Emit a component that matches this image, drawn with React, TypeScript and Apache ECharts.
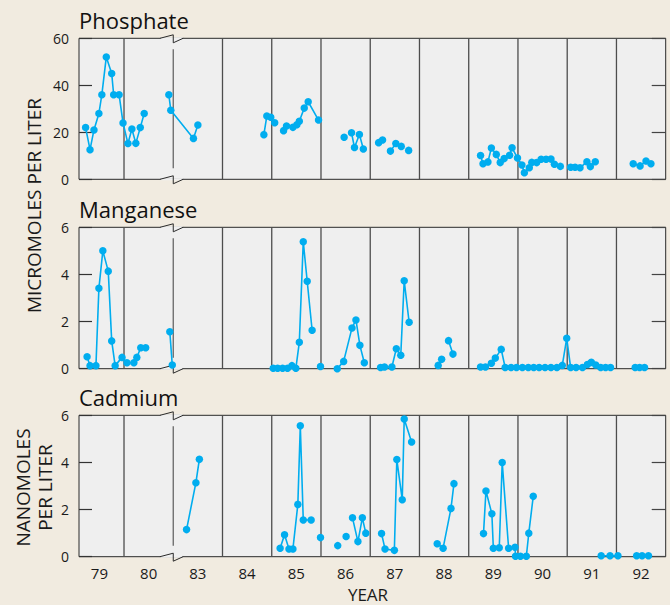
import React, { useEffect, useRef } from "react";
import * as echarts from "echarts";

// Column labels (one column per year; 81-82 are cut out by the axis break)
const yearLabels = ["79", "80", "83", "84", "85", "86", "87", "88", "89", "90", "91", "92"];

// [decimal year, value]; each inner list is one connected run of samples
const phosphate: number[][][] = [
  [[79.22, 22], [79.31, 12.6], [79.39, 21], [79.49, 28], [79.55, 36], [79.64, 52], [79.75, 45], [79.79, 36], [79.9, 36], [79.98, 24], [80.08, 15.2], [80.16, 21.4], [80.24, 15.3], [80.33, 22], [80.41, 28]],
  [[80.91, 36], [80.95, 29.4], [83.41, 17.4], [83.5, 23.1]],
  [[84.84, 19], [84.9, 26.9], [84.98, 26.4], [85.06, 24.1]],
  [[85.24, 20.7], [85.3, 22.7], [85.43, 22.1], [85.51, 23.2], [85.56, 24.7], [85.66, 30.3], [85.74, 33], [85.95, 25.2]],
  [[86.47, 17.9]],
  [[86.62, 19.8], [86.68, 13.5], [86.78, 19.1], [86.86, 12.9]],
  [[87.17, 15.6], [87.25, 16.7]],
  [[87.41, 12], [87.52, 15.2], [87.63, 14]],
  [[87.78, 12.3]],
  [[89.24, 10.1], [89.29, 6.6], [89.39, 7.4], [89.46, 13.3], [89.56, 10.6], [89.64, 7.1], [89.72, 8.8], [89.83, 10.2], [89.88, 13.4], [89.99, 9.1], [90.08, 6.1], [90.13, 2.8], [90.23, 4.9], [90.28, 7.2], [90.38, 7.1], [90.47, 8.5], [90.57, 8.5], [90.67, 8.6], [90.74, 6.4], [90.86, 5.5]],
  [[91.07, 5.1], [91.16, 5.1], [91.26, 4.9], [91.4, 7.5], [91.47, 5.4], [91.57, 7.5]],
  [[92.34, 6.6], [92.48, 5.7], [92.6, 7.8], [92.7, 6.6]],
];

const manganese: number[][][] = [
  [[79.25, 0.51], [79.31, 0.13], [79.43, 0.13], [79.49, 3.41], [79.57, 5.0], [79.68, 4.14], [79.75, 1.18], [79.82, 0.13], [79.96, 0.48], [80.06, 0.25], [80.2, 0.25], [80.26, 0.48], [80.34, 0.89], [80.44, 0.89]],
  [[80.93, 1.57], [80.98, 0.16]],
  [[85.03, 0.02], [85.12, 0.02], [85.22, 0.02], [85.32, 0.02], [85.41, 0.13], [85.49, 0.02], [85.56, 1.12], [85.64, 5.39], [85.72, 3.71], [85.82, 1.63]],
  [[85.99, 0.09]],
  [[86.33, 0.0], [86.46, 0.31], [86.63, 1.73], [86.71, 2.07], [86.79, 0.99], [86.88, 0.25]],
  [[87.21, 0.05], [87.29, 0.07], [87.44, 0.07], [87.53, 0.85], [87.62, 0.57], [87.69, 3.73], [87.79, 1.97]],
  [[88.38, 0.14], [88.45, 0.4]],
  [[88.59, 1.19], [88.68, 0.62]],
  [[89.24, 0.07], [89.34, 0.07], [89.46, 0.23], [89.54, 0.45], [89.66, 0.82], [89.74, 0.05], [89.86, 0.05], [89.97, 0.05], [90.09, 0.05], [90.21, 0.05], [90.32, 0.05], [90.43, 0.05], [90.55, 0.05], [90.67, 0.05], [90.79, 0.05], [90.9, 0.14], [90.99, 1.29], [91.07, 0.05], [91.18, 0.05], [91.31, 0.05], [91.41, 0.18], [91.49, 0.27], [91.58, 0.16], [91.68, 0.05], [91.78, 0.05], [91.88, 0.05]],
  [[92.38, 0.05], [92.47, 0.05], [92.57, 0.05]],
];

const cadmium: number[][][] = [
  [[83.27, 1.15], [83.46, 3.14], [83.53, 4.13]],
  [[85.17, 0.36], [85.26, 0.93], [85.35, 0.33], [85.43, 0.33], [85.53, 2.22], [85.58, 5.56], [85.64, 1.56], [85.8, 1.56]],
  [[85.99, 0.81]],
  [[86.34, 0.47]],
  [[86.51, 0.86]],
  [[86.64, 1.65], [86.75, 0.64], [86.84, 1.65], [86.91, 1.0]],
  [[87.23, 0.98], [87.3, 0.33], [87.49, 0.27], [87.54, 4.12], [87.65, 2.42], [87.69, 5.84], [87.84, 4.87]],
  [[88.36, 0.55], [88.48, 0.36], [88.64, 2.05], [88.7, 3.1]],
  [[89.3, 0.98], [89.35, 2.79], [89.47, 1.82], [89.5, 0.36], [89.62, 0.38], [89.68, 4.0], [89.81, 0.36], [89.94, 0.4], [89.95, 0.02], [90.05, 0.02], [90.17, 0.02], [90.22, 1.0], [90.31, 2.56]],
  [[91.69, 0.04], [91.87, 0.04], [92.03, 0.04]],
  [[92.41, 0.04], [92.52, 0.04], [92.65, 0.04]],
];

const panelTitles = ["Phosphate", "Manganese", "Cadmium"];
const panelMax = [60, 6, 6];
const panelInterval = [20, 2, 2];

// decimal year -> column position on the broken axis (1981-82 removed)
const toPos = (y: number) => (y < 82 ? y - 79 : y - 81);

const FONT = '"Open Sans", "Noto Sans", sans-serif';
const BG = "#f1ebe0";
const PLOT_BG = "#efefef";
const BLUE = "#00adef";
const X_MIN = 0.086;
const X_MAX = 12;
const BREAK_POS = 2;
const dividers = [1, 3, 4, 5, 6, 7, 8, 9, 10, 11];

const grids = [
  { top: 38.3, height: 141 },
  { top: 227.3, height: 141.4 },
  { top: 415.3, height: 141.4 },
];

function makeDeco(yMax: number) {
  return (_params: any, api: any) => {
    const top = api.coord([1, yMax])[1];
    const bottom = api.coord([1, 0])[1];
    const children: any[] = [];
    dividers.forEach((d) => {
      const x = api.coord([d, 0])[0];
      children.push({
        type: "line",
        shape: { x1: x, y1: top, x2: x, y2: bottom },
        style: { stroke: "#4d4d4d", lineWidth: 1.3 },
      });
    });
    const xb = api.coord([BREAK_POS, 0])[0];
    const xl = api.coord([BREAK_POS - 0.27, 0])[0];
    const xr = api.coord([BREAK_POS + 0.2, 0])[0];
    children.push({
      type: "line",
      shape: { x1: xb, y1: top + 11, x2: xb, y2: bottom - 11 },
      style: { stroke: "#666", lineWidth: 1.3 },
    });
    [top, bottom].forEach((yy) => {
      children.push({
        type: "rect",
        shape: { x: xl + 0.5, y: yy - 1, width: xr - xl - 1, height: 2 },
        style: { fill: PLOT_BG },
      });
      children.push({
        type: "polyline",
        shape: { points: [[xl, yy], [xb, yy - 3.5], [xb, yy + 4.5], [xr, yy]] },
        style: { stroke: "#2a2a2a", lineWidth: 1, fill: null },
      });
    });
    return { type: "group", children };
  };
}

export default function App() {
  const ref = useRef<HTMLDivElement>(null);
  useEffect(() => {
    document.body.style.margin = "0";
    document.body.style.background = BG;
    const chart = echarts.init(ref.current!, undefined, { renderer: "svg" });
    const datasets = [phosphate, manganese, cadmium];
    const series: any[] = [];
    datasets.forEach((segs, i) => {
      series.push({
        type: "custom",
        xAxisIndex: i,
        yAxisIndex: i * 2,
        data: [[1, 0]],
        renderItem: makeDeco(panelMax[i]),
        clip: false,
        silent: true,
        z: 1,
      });
      segs.forEach((seg) => {
        series.push({
          type: "line",
          xAxisIndex: i,
          yAxisIndex: i * 2,
          data: seg.map(([y, v]) => [toPos(y), v]),
          symbol: "circle",
          symbolSize: 7.5,
          showSymbol: true,
          lineStyle: { color: BLUE, width: 1.6 },
          itemStyle: { color: BLUE },
          silent: true,
          z: 3,
        });
      });
    });

    const yAxes: any[] = [];
    grids.forEach((_, i) => {
      yAxes.push({
        gridIndex: i,
        type: "value",
        min: 0,
        max: panelMax[i],
        interval: panelInterval[i],
        axisLine: { show: false },
        axisTick: { show: true, inside: true, length: 13, lineStyle: { color: "#333", width: 1.2 } },
        splitLine: { show: false },
        axisLabel: { fontSize: 14, color: "#1a1a1a", margin: 10, fontFamily: FONT },
      });
      yAxes.push({
        gridIndex: i,
        type: "value",
        position: "right",
        min: 0,
        max: panelMax[i],
        interval: panelInterval[i],
        axisLine: { show: false },
        axisTick: { show: true, inside: true, length: 14, lineStyle: { color: "#444", width: 1.2 } },
        splitLine: { show: false },
        axisLabel: { show: false },
      });
    });

    const labelValues = yearLabels.map((_, k) => k + 0.5);

    chart.setOption({
      animation: false,
      backgroundColor: BG,
      grid: grids.map((g) => ({
        left: 79,
        width: 586.7,
        top: g.top,
        height: g.height,
        show: true,
        backgroundColor: PLOT_BG,
        borderColor: "#2a2a2a",
        borderWidth: 1,
      })),
      xAxis: grids.map((_, i) => ({
        gridIndex: i,
        type: "value",
        min: X_MIN,
        max: X_MAX,
        axisLine: { show: false },
        axisTick: { show: false },
        splitLine: { show: false },
        axisLabel:
          i === 2
            ? {
                show: true,
                customValues: labelValues,
                formatter: (v: number) => yearLabels[Math.floor(v)] ?? "",
                fontSize: 15,
                color: "#1a1a1a",
                margin: 9,
                fontFamily: FONT,
              }
            : { show: false },
      })),
      yAxis: yAxes,
      graphic: [
        ...panelTitles.map((t, i) => ({
          type: "text",
          x: 79,
          y: [20, 208.6, 397.3][i],
          style: { text: t, font: `22px ${FONT}`, fill: "#111", align: "left", verticalAlign: "middle" },
        })),
        {
          type: "text",
          x: 368,
          y: 603,
          style: { text: "YEAR", font: `17px ${FONT}`, fill: "#1a1a1a", align: "center", verticalAlign: "bottom" },
        },
        {
          type: "text",
          x: 34,
          y: 205.5,
          rotation: Math.PI / 2,
          style: { text: "MICROMOLES PER LITER", font: `19px ${FONT}`, fill: "#1a1a1a", align: "center", verticalAlign: "middle" },
        },
        {
          type: "text",
          x: 34,
          y: 487.5,
          rotation: Math.PI / 2,
          style: { text: "NANOMOLES\nPER LITER", font: `19px ${FONT}`, lineHeight: 21.5, fill: "#1a1a1a", align: "center", verticalAlign: "middle" },
        },
      ],
      series,
    });
    return () => chart.dispose();
  }, []);
  return <div ref={ref} style={{ width: 670, height: 605, background: BG }} />;
}
